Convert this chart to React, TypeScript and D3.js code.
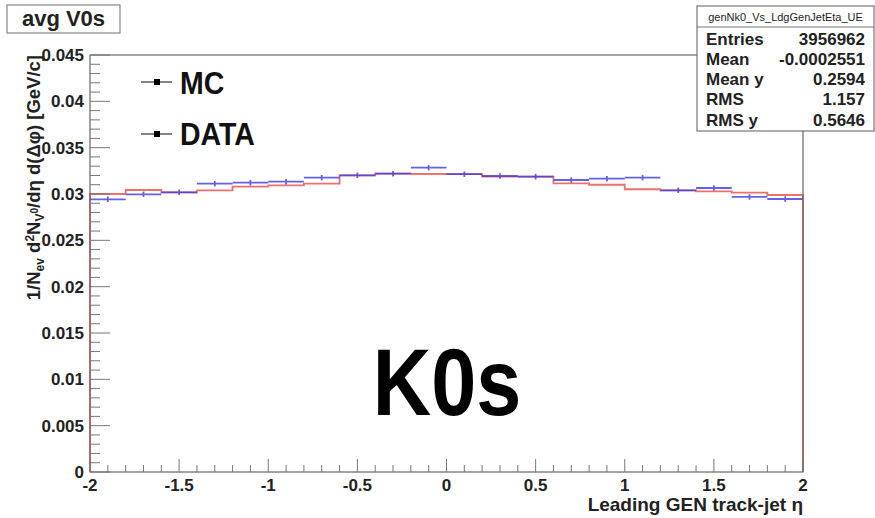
import React from "react";
import * as d3 from "d3";

// bin lower edges (20 bins of width 0.2 from -2 to 2)
const binEdges = [-2, -1.8, -1.6, -1.4, -1.2, -1, -0.8, -0.6, -0.4, -0.2, 0, 0.2, 0.4, 0.6, 0.8, 1, 1.2, 1.4, 1.6, 1.8, 2];
// DATA (blue points with error bars)
const dataValues = [0.02943, 0.02997, 0.03018, 0.03111, 0.03122, 0.03133, 0.03176, 0.03202, 0.03219, 0.03284,
  0.03214, 0.03194, 0.03187, 0.03151, 0.03165, 0.03176, 0.0304, 0.03065, 0.02968, 0.02946];
const dataErrors = [0.0003, 0.0003, 0.0003, 0.0003, 0.0003, 0.0003, 0.0003, 0.0003, 0.0003, 0.0003,
  0.0003, 0.0003, 0.0003, 0.0003, 0.0003, 0.0003, 0.0003, 0.0003, 0.0003, 0.0003];
// MC (red histogram)
const mcValues = [0.03, 0.03043, 0.03018, 0.0304, 0.03079, 0.03094, 0.03111, 0.03202, 0.03219, 0.03216,
  0.03214, 0.03187, 0.03187, 0.03115, 0.031, 0.03051, 0.0304, 0.03029, 0.03014, 0.02989];

const xMajorTicks = [-2, -1.5, -1, -0.5, 0, 0.5, 1, 1.5, 2];
const xTickLabels = ["-2", "-1.5", "-1", "-0.5", "0", "0.5", "1", "1.5", "2"];
const yMajorTicks = [0, 0.005, 0.01, 0.015, 0.02, 0.025, 0.03, 0.035, 0.04, 0.045];
const yTickLabels = ["0", "0.005", "0.01", "0.015", "0.02", "0.025", "0.03", "0.035", "0.04", "0.045"];

const statLabels = ["Entries", "Mean", "Mean y", "RMS", "RMS y"];
const statValues = ["3956962", "-0.0002551", "0.2594", "1.157", "0.5646"];

const FONT = "'Liberation Sans', Arial, Helvetica, sans-serif";

export default function App() {
  const left = 90, right = 803, top = 55, bottom = 472;
  const x = d3.scaleLinear().domain([-2, 2]).range([left, right]);
  const y = d3.scaleLinear().domain([0, 0.045]).range([bottom, top]);

  const xMinor = d3.range(-2, 2.0001, 0.1).map((v) => +v.toFixed(2));
  const yMinor = d3.range(0, 0.04501, 0.001).map((v) => +v.toFixed(4));

  // MC step path
  const mcPts: [number, number][] = [[x(-2), y(0)]];
  mcValues.forEach((v, i) => {
    mcPts.push([x(binEdges[i]), y(v)]);
    mcPts.push([x(binEdges[i + 1]), y(v)]);
  });
  mcPts.push([x(2), y(0)]);
  const mcPath = d3.line()(mcPts) || "";

  const red = "rgb(238,95,95)";
  const blue = "rgb(60,60,225)";

  return (
    <svg width={875} height={518} style={{ position: "absolute", left: 0, top: 0, background: "#fff" }} fontFamily={FONT}>
      <rect x={0} y={0} width={875} height={518} fill="#fff" />
      {/* histogram MC */}
      <path d={mcPath} fill="none" stroke={red} strokeWidth={1.8} opacity={0.9} />
      {/* DATA */}
      {dataValues.map((v, i) => {
        const xc = x((binEdges[i] + binEdges[i + 1]) / 2);
        return (
          <g key={i} stroke={blue} strokeWidth={1.8} opacity={0.8}>
            <line x1={x(binEdges[i])} x2={x(binEdges[i + 1])} y1={y(v)} y2={y(v)} />
            <line x1={xc} x2={xc} y1={y(v - dataErrors[i])} y2={y(v + dataErrors[i])} />
          </g>
        );
      })}
      {/* frame */}
      <rect x={left} y={top} width={right - left} height={bottom - top} fill="none" stroke="#666" strokeWidth={1.2} />
      {/* y ticks */}
      {yMinor.map((v, i) => {
        const major = i % 5 === 0;
        return <line key={"ym" + i} x1={left} x2={left + (major ? 20 : 10)} y1={y(v)} y2={y(v)} stroke="#777" strokeWidth={1} />;
      })}
      {yMajorTicks.map((v, i) => (
        <text key={"yl" + i} x={84} y={y(v) + 6} textAnchor="end" fontSize={17} fontWeight="bold" fill="#222">
          {yTickLabels[i]}
        </text>
      ))}
      {/* x ticks */}
      {xMinor.map((v, i) => {
        const major = i % 5 === 0;
        return <line key={"xm" + i} x1={x(v)} x2={x(v)} y1={bottom} y2={bottom - (major ? 13 : 7)} stroke="#777" strokeWidth={1} />;
      })}
      {xMajorTicks.map((v, i) => (
        <text key={"xl" + i} x={x(v)} y={491} textAnchor="middle" fontSize={17} fontWeight="bold" fill="#222">
          {xTickLabels[i]}
        </text>
      ))}
      {/* axis titles */}
      <text x={803} y={511} textAnchor="end" fontSize={19} fontWeight="bold" fill="#222">
        Leading GEN track-jet η
      </text>
      <text transform="translate(40,55) rotate(-90)" textAnchor="end" fontSize={18.5} fontWeight="bold" fill="#222">
        <tspan>1/N</tspan>
        <tspan dy={4} fontSize={12}>ev</tspan>
        <tspan dy={-4}> d</tspan>
        <tspan dy={-6} fontSize={12}>2</tspan>
        <tspan dy={6}>N</tspan>
        <tspan dy={4} fontSize={12}>V</tspan>
        <tspan dy={-6} fontSize={10}>0</tspan>
        <tspan dy={2}>/dη d(Δφ) [GeV/c]</tspan>
      </text>
      {/* legend */}
      {[{ label: "MC", yy: 82, base: 94 }, { label: "DATA", yy: 134, base: 145 }].map((d) => (
        <g key={d.label}>
          <line x1={141} x2={172} y1={d.yy} y2={d.yy} stroke="#333" strokeWidth={1.2} />
          <rect x={154} y={d.yy - 3} width={6} height={6} fill="#000" />
          <text transform={`translate(180,${d.base}) scale(1,1.1)`} fontSize={28.5} fontWeight="bold" fill="#111">
            {d.label}
          </text>
        </g>
      ))}
      {/* title box */}
      <rect x={7} y={5} width={113} height={28} fill="#fff" stroke="#888" strokeWidth={1.2} />
      <text x={63.5} y={26} textAnchor="middle" fontSize={22} fontWeight="bold" fill="#222">avg V0s</text>
      {/* stats box */}
      <rect x={697} y={6} width={177} height={125} fill="#fff" stroke="#777" strokeWidth={1.2} />
      <line x1={697} x2={874} y1={27} y2={27} stroke="#777" strokeWidth={1} />
      <text x={785.5} y={21} textAnchor="middle" fontSize={11} fill="#222">genNk0_Vs_LdgGenJetEta_UE</text>
      {statLabels.map((l, i) => (
        <g key={l}>
          <text x={706} y={44.5 + 20.3 * i} fontSize={17} fontWeight="bold" fill="#222">{l}</text>
          <text x={865} y={44.5 + 20.3 * i} textAnchor="end" fontSize={17} fontWeight="bold" fill="#222">{statValues[i]}</text>
        </g>
      ))}
      {/* big label */}
      <text transform="translate(447,415) scale(1,1.17)" textAnchor="middle" fontSize={81} fontWeight="bold" fill="#000">K0s</text>
    </svg>
  );
}
